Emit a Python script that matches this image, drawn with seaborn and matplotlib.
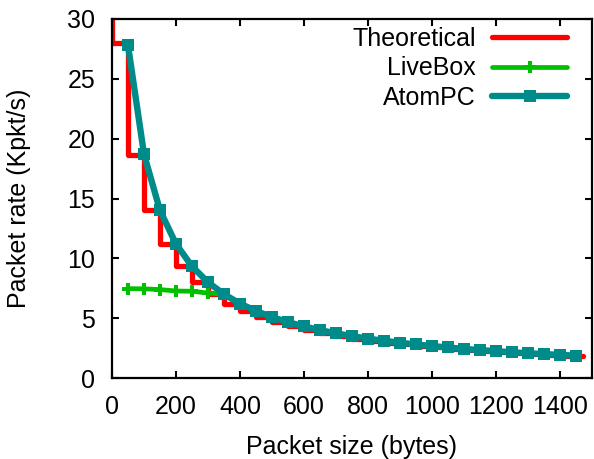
import matplotlib
matplotlib.use("Agg")
import matplotlib.pyplot as plt
import seaborn as sns
import pandas as pd

# packet sizes (bytes)
sizes = [50, 100, 150, 200, 250, 300, 350, 400, 450, 500, 550, 600, 650, 700, 750,
         800, 850, 900, 950, 1000, 1050, 1100, 1150, 1200, 1250, 1300, 1350, 1400, 1450]

# measured packet rates (Kpkt/s)
atompc = [27.8, 18.7, 14.0, 11.2, 9.33, 8.0, 7.0, 6.22, 5.6, 5.09, 4.67, 4.31, 4.0, 3.73, 3.5,
          3.29, 3.11, 2.95, 2.8, 2.67, 2.55, 2.43, 2.33, 2.24, 2.15, 2.07, 2.0, 1.93, 1.87]
livebox = [7.47, 7.45, 7.39, 7.27, 7.25, 7.1, 7.0, 6.2, 5.6, 5.09, 4.67, 4.31, 4.0, 3.73, 3.5,
           3.29, 3.11, 2.95, 2.8, 2.67, 2.55, 2.43, 2.33, 2.24, 2.15, 2.07, 2.0, 1.93, 1.87]

# theoretical maximum (step curve)
theo_sizes = [0, 50, 100, 150, 200, 250, 300, 350, 400, 450, 500, 550, 600, 650, 700, 750,
              800, 850, 900, 950, 1000, 1050, 1100, 1150, 1200, 1250, 1300, 1350, 1400, 1450, 1472]
theo_rate = [56.0, 28.0, 18.67, 14.0, 11.2, 9.33, 8.0, 7.0, 6.22, 5.6, 5.09, 4.67, 4.31, 4.0, 3.73, 3.5,
             3.29, 3.11, 2.95, 2.8, 2.67, 2.55, 2.43, 2.33, 2.24, 2.15, 2.07, 2.0, 1.93, 1.87, 1.84]

sns.set_style("ticks")
plt.rcParams['font.family'] = ['Liberation Sans', 'DejaVu Sans']
plt.rcParams['text.color'] = 'black'
plt.rcParams['axes.labelcolor'] = 'black'
plt.rcParams['xtick.color'] = 'black'
plt.rcParams['ytick.color'] = 'black'
FS = 18

fig = plt.figure(figsize=(5.94, 4.59), dpi=100)
ax = fig.add_axes([112 / 594, 1 - 378 / 459, 480 / 594, 359 / 459])

theo_df = pd.DataFrame({'size': theo_sizes, 'rate': theo_rate})
meas_df = pd.DataFrame({'size': sizes, 'livebox': livebox, 'atompc': atompc})

sns.lineplot(data=theo_df, x='size', y='rate', ax=ax, color='#ff0000', linewidth=3.8,
             drawstyle='steps-pre', estimator=None, sort=False, label='Theoretical', zorder=2)
sns.lineplot(data=meas_df, x='size', y='livebox', ax=ax, color='#00c000', linewidth=3.4,
             marker='P', markersize=8, markeredgewidth=0, estimator=None, sort=False,
             label='LiveBox', zorder=3)
sns.lineplot(data=meas_df, x='size', y='atompc', ax=ax, color='#008b8b', linewidth=4.6,
             marker='s', markersize=8.5, markeredgewidth=0, estimator=None, sort=False,
             label='AtomPC', zorder=4)

ax.set_xlim(0, 1500)
ax.set_ylim(0, 30)
ax.set_xticks(range(0, 1401, 200))
ax.set_yticks(range(0, 31, 5))
ax.tick_params(direction='in', length=5, width=1.5, top=True, right=True,
               labelsize=FS, pad=12)
for s in ax.spines.values():
    s.set_linewidth(1.6)
    s.set_color('black')

ax.set_xlabel('Packet size (bytes)', fontsize=FS, labelpad=12)
ax.set_ylabel('Packet rate (Kpkt/s)', fontsize=FS, labelpad=26)

ax.legend(loc='upper right', bbox_to_anchor=(0.948, 0.978), frameon=False, fontsize=FS,
          markerfirst=False, handlelength=3.0, handletextpad=0.65, labelspacing=0.22,
          borderpad=0, borderaxespad=0)

fig.savefig('out.png', dpi=100)
